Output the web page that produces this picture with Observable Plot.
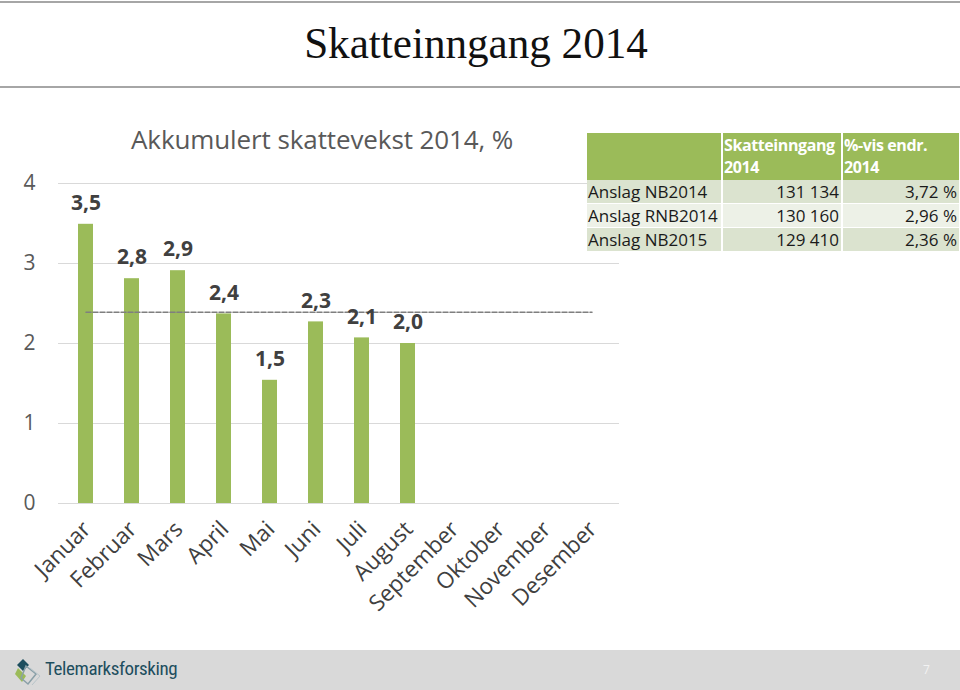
<!DOCTYPE html>
<html>
<head>
<meta charset="utf-8">
<script src="https://cdn.jsdelivr.net/npm/d3@7"></script>
<script src="https://cdn.jsdelivr.net/npm/@observablehq/plot@0.6"></script>
<style>
  html, body { margin: 0; padding: 0; background: #fff; }
  #page { position: relative; width: 960px; height: 690px; overflow: hidden; font-family: "Open Sans", sans-serif; }
  .hline { position: absolute; left: 0; width: 960px; height: 2px; background: #a6a6a6; }
  #title { position: absolute; left: 0; width: 952px; top: 18px; text-align: center; font-family: "Liberation Serif", serif; font-size: 44px; color: #111; transform: scaleX(0.98); }
  #subtitle { position: absolute; left: 131px; top: 121px; font-size: 26px; color: #595959; letter-spacing: -0.1px; }
  #chart { position: absolute; left: 0; top: 100px; }
  #tbl { position: absolute; left: 587px; top: 133px; border-collapse: collapse; table-layout: fixed; width: 373px; font-size: 17px; color: #1a1a1a; }
  #tbl td, #tbl th { padding: 0 2px 0 1px; border-right: 2px solid #fff; line-height: 23px; white-space: nowrap; overflow: visible; }
  #tbl th { background: #9bbb59; color: #fff; font-weight: 700; font-size: 16px; letter-spacing: -0.4px; text-align: left; vertical-align: top; height: 46px; line-height: 22px; padding-top: 1px; }
  #tbl tr.r1 td { background: #dbe3cf; border-bottom: 1px solid #fff; }
  #tbl tr.r2 td { background: #edf1e7; border-bottom: 1px solid #fff; }
  #tbl td.num { text-align: right; }
  #footer { position: absolute; left: 0; top: 650px; width: 960px; height: 40px; background: #d9d9d9; }
  #logo { position: absolute; left: 14px; top: 6px; }
  #logotext { position: absolute; left: 45px; top: 7px; font-family: "Roboto", sans-serif; font-size: 19px; color: #1d4e5e; letter-spacing: -0.4px; font-stretch: condensed; }
  #pagenum { position: absolute; left: 923px; top: 11px; font-size: 12px; color: #f2f2f2; }
</style>
</head>
<body>
<div id="page">
  <div class="hline" style="top:1px"></div>
  <div id="title">Skatteinngang 2014</div>
  <div class="hline" style="top:86px"></div>
  <div id="chart"></div>
  <div id="subtitle">Akkumulert skattevekst 2014, %</div>
  <table id="tbl"><colgroup><col style="width:135px"><col style="width:120px"><col style="width:118px"></colgroup></table>
  <div id="footer">
    <svg id="logo" width="30" height="30" viewBox="0 0 30 30">
      <path d="M9 3 L15 9 L9 15 L3 9 Z" fill="#1d4e5e"/>
      <path d="M4 12 L12 20 L8 26 L1 18 Z" fill="#9bbb59"/>
      <path d="M12 10 L22 18 L14 28 L7 22 Z" fill="none" stroke="#8aa0a8" stroke-width="1.5"/>
      <path d="M16 12 L26 20 L18 29" fill="none" stroke="#b7c4c9" stroke-width="1"/>
    </svg>
    <div id="logotext">Telemarksforsking</div>
    <div id="pagenum">7</div>
  </div>
</div>
<script>
const months = ["Januar","Februar","Mars","April","Mai","Juni","Juli","August","September","Oktober","November","Desember"];
const valueMonths = ["Januar","Februar","Mars","April","Mai","Juni","Juli","August"];
const values = [3.49, 2.81, 2.91, 2.37, 1.54, 2.27, 2.07, 2.0];
const valueLabels = ["3,5","2,8","2,9","2,4","1,5","2,3","2,1","2,0"];
const referenceLevel = 2.39;
const yTicks = [0, 1, 2, 3, 4];

const tableHeader = ["", "Skatteinngang 2014", "%-vis endr. 2014"];
const tableRows = ["Anslag NB2014", "Anslag RNB2014", "Anslag NB2015"];
const tableAmounts = ["131 134", "130 160", "129 410"];
const tableChanges = ["3,72 %", "2,96 %", "2,36 %"];

const bars = valueMonths.map((m, i) => ({month: m, value: values[i], label: valueLabels[i]}));
const refLine = months.map(m => ({month: m, value: referenceLevel}));

const chart = Plot.plot({
  width: 640,
  height: 520,
  marginLeft: 58,
  marginRight: 21,
  marginTop: 83,
  marginBottom: 117,
  style: {fontFamily: "Open Sans, sans-serif", background: "transparent"},
  x: {domain: months, paddingInner: 0.68, paddingOuter: 0.34, align: 0.5, label: null},
  y: {domain: [0, 4], label: null},
  marks: [
    Plot.gridY(yTicks, {stroke: "#d9d9d9", strokeOpacity: 1, strokeWidth: 1}),
    Plot.axisY(yTicks, {tickSize: 0, tickPadding: 23, fontSize: 21, fill: "#595959", tickFormat: d => String(d), label: null}),
    Plot.axisX({tickSize: 0, tickRotate: -45, tickPadding: 22, fontSize: 22.5, fill: "#404040", label: null, dx: 1}),
    Plot.barY(bars, {x: "month", y: "value", fill: "#9bbb59"}),
    Plot.lineY(refLine, {x: "month", y: "value", stroke: "#7f7f7f", strokeWidth: 1.5, strokeDasharray: "5,2"}),
    Plot.text(bars, {x: "month", y: "value", text: "label", dy: -21, fontSize: 21, fontWeight: "bold", fill: "#404040"})
  ]
});
document.getElementById("chart").appendChild(chart);

const tbl = d3.select("#tbl");
const hr = tbl.append("tr");
hr.append("th").text(tableHeader[0]);
hr.append("th").html(tableHeader[1].replace(" ", "<br>"));
hr.append("th").html(tableHeader[2].replace(" 2014", "<br>2014"));
tableRows.forEach((r, i) => {
  const tr = tbl.append("tr").attr("class", i % 2 === 0 ? "r1" : "r2");
  tr.append("td").text(r);
  tr.append("td").attr("class", "num").text(tableAmounts[i]);
  tr.append("td").attr("class", "num").text(tableChanges[i]);
});
</script>
</body>
</html>
